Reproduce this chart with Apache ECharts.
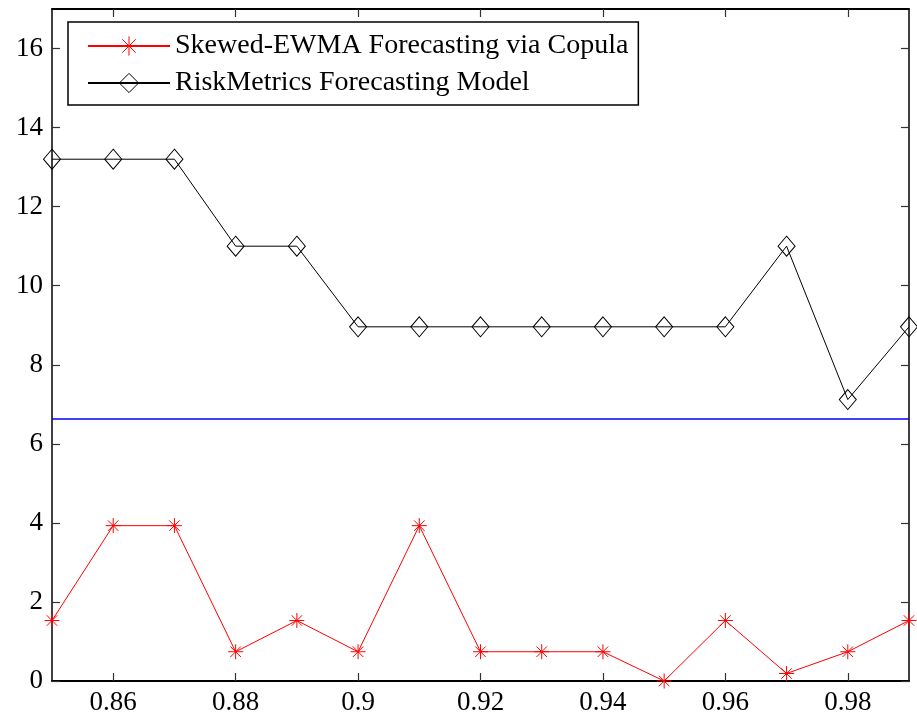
<!DOCTYPE html>
<html>
<head>
<meta charset="utf-8">
<script src="https://cdn.jsdelivr.net/npm/echarts@6/dist/echarts.min.js"></script>
<style>
  html, body { margin: 0; padding: 0; background: #fff; }
  #chart { width: 917px; height: 716px; }
</style>
</head>
<body>
<div id="chart"></div>
<script>
// Decay factor values (x axis)
const lambdas = [0.85, 0.86, 0.87, 0.88, 0.89, 0.90, 0.91, 0.92, 0.93, 0.94, 0.95, 0.96, 0.97, 0.98, 0.99];
// Test statistic for each model
const skewedEwma = [1.53, 3.93, 3.93, 0.74, 1.53, 0.74, 3.93, 0.74, 0.74, 0.74, 0, 1.53, 0.19, 0.74, 1.53];
const riskMetrics = [13.2, 13.2, 13.2, 11.0, 11.0, 8.96, 8.96, 8.96, 8.96, 8.96, 8.96, 8.96, 11.0, 7.12, 8.96];
// Critical value line
const criticalValue = 6.635;
// Tick positions
const xTicks = [0.86, 0.88, 0.90, 0.92, 0.94, 0.96, 0.98];
const yTicks = [0, 2, 4, 6, 8, 10, 12, 14, 16];
const seriesNames = ['Skewed-EWMA Forecasting via Copula', 'RiskMetrics Forecasting Model'];

const FONT = 'Liberation Serif';
const asterisk = 'path://M0,-10L0,10M-10,0L10,0M-7,-7L7,7M-7,7L7,-7';

const chart = echarts.init(document.getElementById('chart'), null, { renderer: 'canvas' });

function xAxisCfg(pos, showLabel) {
  return {
    type: 'value', position: pos, min: 0.85, max: 0.99,
    axisLine: { show: true, onZero: false, lineStyle: { color: '#000', width: 1.8 } },
    axisTick: { show: true, inside: true, length: 8, customValues: xTicks, lineStyle: { color: '#333', width: 1.2 } },
    axisLabel: { show: showLabel, customValues: xTicks, fontFamily: FONT, fontSize: 27, color: '#000', margin: 8 },
    splitLine: { show: false }
  };
}
function yAxisCfg(pos, showLabel) {
  return {
    type: 'value', position: pos, min: 0, max: 17,
    axisLine: { show: true, onZero: false, lineStyle: { color: '#000', width: 1.5 } },
    axisTick: { show: true, inside: true, length: 8, customValues: yTicks, lineStyle: { color: '#333', width: 1.2 } },
    axisLabel: { show: showLabel, customValues: yTicks, fontFamily: FONT, fontSize: 27, color: '#000', margin: 9 },
    splitLine: { show: false }
  };
}

chart.setOption({
  animation: false,
  backgroundColor: '#fff',
  grid: { left: 52, right: 8, top: 9, bottom: 34 },
  xAxis: [xAxisCfg('bottom', true), xAxisCfg('top', false)],
  yAxis: [yAxisCfg('left', true), yAxisCfg('right', false)],
  legend: {
    orient: 'vertical',
    left: 68, top: 22,
    padding: [9, 10, 7, 19],
    itemGap: 7,
    itemWidth: 82,
    itemHeight: 24,
    itemStyle: { borderWidth: 1 },
    backgroundColor: '#fff',
    borderColor: '#000',
    borderWidth: 1.5,
    borderRadius: 0,
    textStyle: { fontFamily: FONT, fontSize: 28, color: '#000', lineHeight: 30 },
    data: seriesNames
  },
  series: [
    {
      name: seriesNames[0],
      type: 'line',
      clip: false,
      data: lambdas.map((x, i) => [x, skewedEwma[i]]),
      symbol: asterisk,
      symbolSize: 15,
      lineStyle: { color: '#ff0000', width: 1 },
      itemStyle: { color: '#ff0000', borderColor: '#ff0000', borderWidth: 1 },
      markLine: {
        silent: true,
        symbol: 'none',
        label: { show: false },
        lineStyle: { color: '#0000ff', type: 'solid', width: 1.5 },
        data: [{ yAxis: criticalValue }]
      },
      z: 3
    },
    {
      name: seriesNames[1],
      type: 'line',
      clip: false,
      data: lambdas.map((x, i) => [x, riskMetrics[i]]),
      symbol: 'diamond',
      symbolSize: [17, 20],
      lineStyle: { color: '#000', width: 1 },
      itemStyle: { color: 'rgba(255,255,255,0)', borderColor: '#000', borderWidth: 1 },
      z: 3
    }
  ]
});
</script>
</body>
</html>
